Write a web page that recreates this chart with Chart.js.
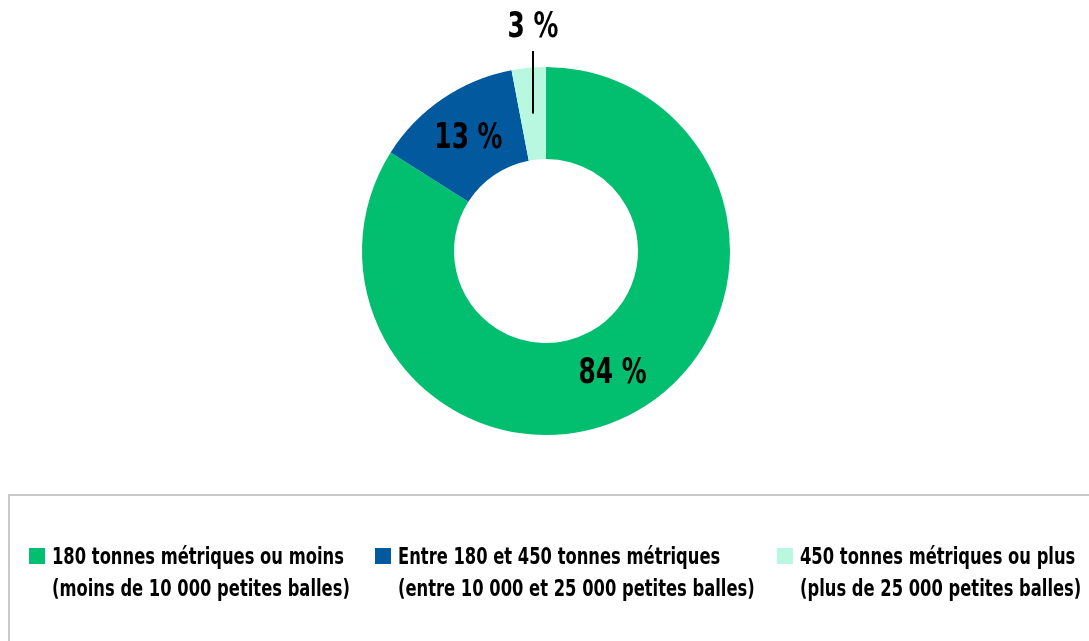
<!DOCTYPE html>
<html lang="fr">
<head>
<meta charset="utf-8">
<script src="https://cdn.jsdelivr.net/npm/chart.js@4/dist/chart.umd.min.js"></script>
<style>
  html, body { margin: 0; padding: 0; background: #fff; }
  #wrap { position: relative; width: 1089px; height: 641px; overflow: hidden; }
  #chart { position: absolute; left: 0; top: 0; }
  #legend {
    position: absolute; left: 8px; top: 494px; width: 1100px; height: 200px;
    border: 2px solid #c8c8c8; box-sizing: border-box;
    font-family: "DejaVu Sans Condensed", "Liberation Sans Narrow", sans-serif;
    font-weight: bold; font-size: 23px; line-height: 32px; color: #000;
  }
  .item { position: absolute; top: 44px; }
  .sw { position: absolute; left: 0; top: 8px; width: 16px; height: 16px; }
  .tx { position: absolute; left: 23px; top: 0; white-space: nowrap;
        transform: scaleX(0.79); transform-origin: 0 0; }
</style>
</head>
<body>
<div id="wrap">
  <canvas id="chart" width="1089" height="641"></canvas>
  <div id="legend"></div>
</div>
<script>
// Répartition des exploitations selon la production
const categories = [
  ["180 tonnes métriques ou moins", "(moins de 10 000 petites balles)"],
  ["Entre 180 et 450 tonnes métriques", "(entre 10 000 et 25 000 petites balles)"],
  ["450 tonnes métriques ou plus", "(plus de 25 000 petites balles)"]
];
const shares = [84, 13, 3];
const sliceLabels = ["84 %", "13 %", "3 %"];
const colors = ["#02bf70", "#03599d", "#b9f8e0"];

// Legend entries (HTML), left offsets of each entry inside the frame
const legendX = [19, 365, 767];
const legend = document.getElementById('legend');
categories.forEach((lines, i) => {
  const it = document.createElement('div');
  it.className = 'item';
  it.style.left = legendX[i] + 'px';
  const sw = document.createElement('div');
  sw.className = 'sw';
  sw.style.background = colors[i];
  const tx = document.createElement('div');
  tx.className = 'tx';
  tx.innerHTML = lines.join('<br>');
  it.appendChild(sw);
  it.appendChild(tx);
  legend.appendChild(it);
});

// Percent labels on the ring; small slices get a leader line above
const sliceLabelPlugin = {
  id: 'sliceLabels',
  afterDatasetsDraw(chart) {
    const ctx = chart.ctx;
    const meta = chart.getDatasetMeta(0);
    const drawText = (txt, x, y) => {
      ctx.save();
      ctx.translate(x, y);
      ctx.scale(0.79, 1);
      ctx.fillText(txt, 0, 0);
      ctx.restore();
    };
    ctx.save();
    ctx.font = 'bold 35px "DejaVu Sans Condensed", "Liberation Sans Narrow", sans-serif';
    ctx.fillStyle = '#000';
    ctx.textAlign = 'center';
    ctx.textBaseline = 'middle';
    meta.data.forEach((arc, i) => {
      const p = arc.tooltipPosition();
      if (shares[i] < 5) {
        const top = arc.y - arc.outerRadius - 16;
        ctx.strokeStyle = '#000';
        ctx.lineWidth = 2;
        ctx.beginPath();
        ctx.moveTo(p.x, p.y);
        ctx.lineTo(p.x, top);
        ctx.stroke();
        drawText(sliceLabels[i], p.x, top - 23);
      } else {
        drawText(sliceLabels[i], p.x, p.y + 2);
      }
    });
    ctx.restore();
  }
};

new Chart(document.getElementById('chart'), {
  type: 'doughnut',
  data: {
    labels: categories.map(l => l.join(' ')),
    datasets: [{
      data: shares,
      backgroundColor: colors,
      borderWidth: 0,
      hoverOffset: 0
    }]
  },
  options: {
    responsive: false,
    animation: false,
    cutout: '50%',
    layout: { padding: { left: 3, right: 0, top: 67, bottom: 206 } },
    plugins: {
      legend: { display: false },
      tooltip: { enabled: false }
    }
  },
  plugins: [sliceLabelPlugin]
});
</script>
</body>
</html>
